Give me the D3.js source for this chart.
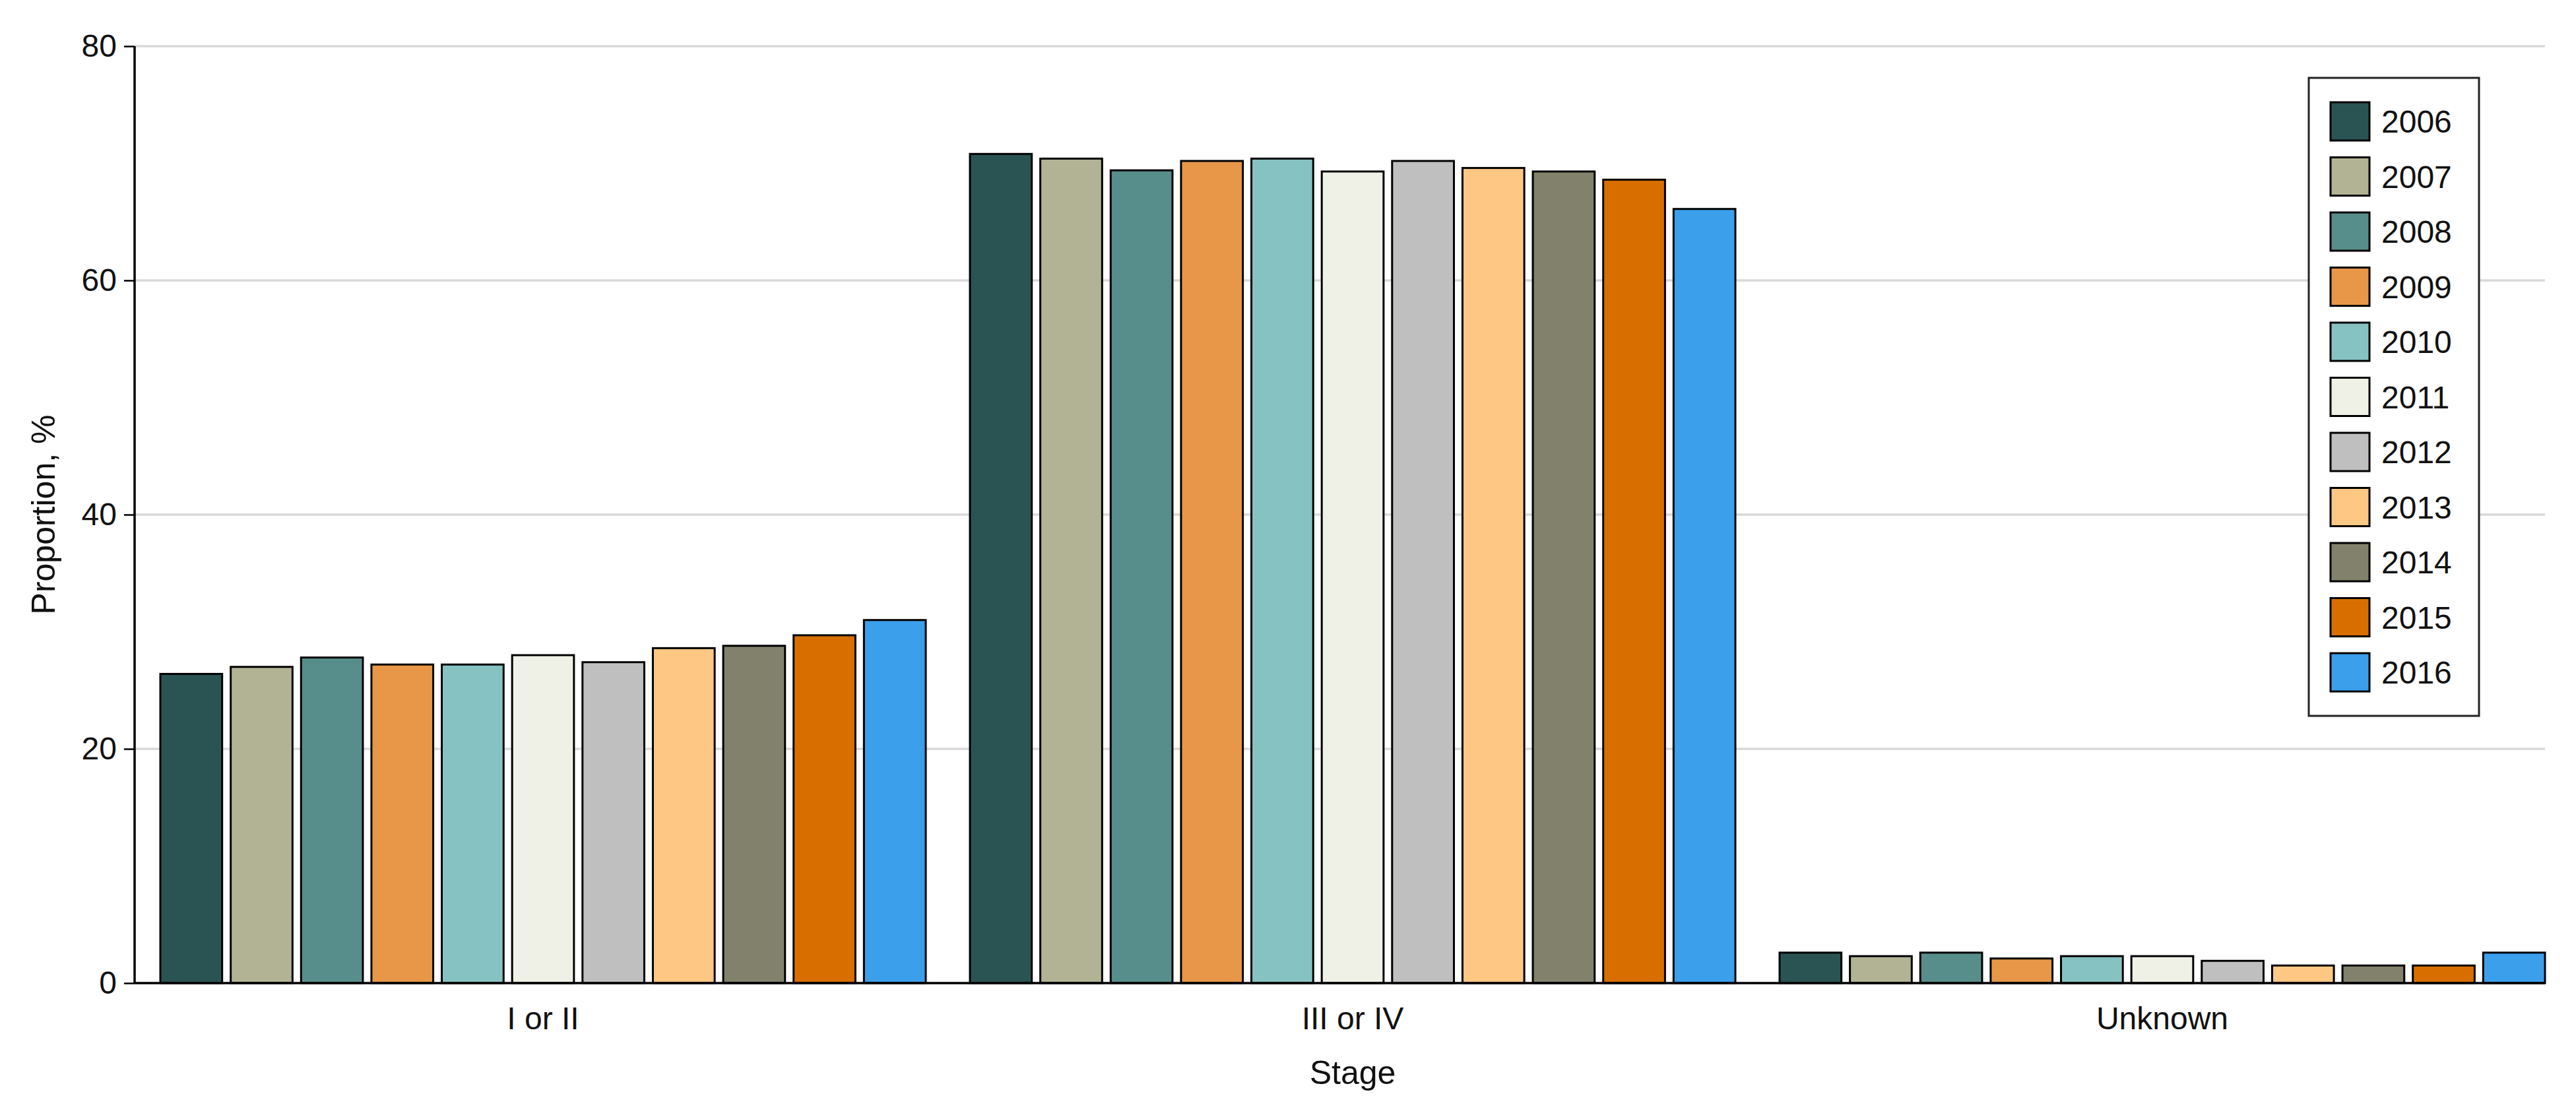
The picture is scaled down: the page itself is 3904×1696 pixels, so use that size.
<!DOCTYPE html>
<html>
<head>
<meta charset="utf-8">
<script src="https://cdn.jsdelivr.net/npm/d3@7"></script>
<style>
  html, body { margin: 0; padding: 0; background: #fff; }
  svg text { font-family: "Liberation Sans", Arial, sans-serif; fill: #111; }
</style>
</head>
<body>
<svg id="chart" width="3904" height="1696"></svg>
<script>
const stages = ["I or II", "III or IV", "Unknown"];
const years = ["2006","2007","2008","2009","2010","2011","2012","2013","2014","2015","2016"];
const colors = ["#2a5454","#b2b394","#578e8b","#e79747","#87c2c2","#f0f1e6","#bfbfbf","#ffc784","#82816b","#d96e00","#3b9feb"];
const valuesIorII   = [26.4, 27.0, 27.8, 27.2, 27.2, 28.0, 27.4, 28.6, 28.8, 29.7, 31.0];
const valuesIIIorIV = [70.8, 70.4, 69.4, 70.2, 70.4, 69.3, 70.2, 69.6, 69.3, 68.6, 66.1];
const valuesUnknown = [2.6, 2.3, 2.6, 2.1, 2.3, 2.3, 1.9, 1.5, 1.5, 1.5, 2.6];
const yTicks = [0, 20, 40, 60, 80];

const seriesByStage = [valuesIorII, valuesIIIorIV, valuesUnknown];
const data = stages.map((s, i) => ({ stage: s, values: years.map((y, j) => ({ year: y, value: seriesByStage[i][j] })) }));

const svg = d3.select("#chart");
const axisX0 = 204, plotRight = 3857, yTop = 70, yBottom = 1490;

const y = d3.scaleLinear().domain([0, 80]).range([yBottom, yTop]);
const x0 = d3.scaleBand().domain(stages).range([243, plotRight]).paddingInner(0.0546).paddingOuter(0);
const x1 = d3.scaleBand().domain(years).range([0, x0.bandwidth()]).paddingInner(0.1215).paddingOuter(0);
const color = d3.scaleOrdinal().domain(years).range(colors);

// gridlines
svg.append("g").selectAll("line").data(yTicks.filter(t => t > 0)).join("line")
  .attr("x1", axisX0).attr("x2", plotRight)
  .attr("y1", d => y(d)).attr("y2", d => y(d))
  .attr("stroke", "#d9d9d9").attr("stroke-width", 3.5);

// bars
const groups = svg.append("g").selectAll("g").data(data).join("g")
  .attr("transform", d => `translate(${x0(d.stage)},0)`);
groups.selectAll("rect").data(d => d.values).join("rect")
  .attr("x", d => x1(d.year))
  .attr("width", x1.bandwidth())
  .attr("y", d => y(d.value))
  .attr("height", d => y(0) - y(d.value))
  .attr("fill", d => color(d.year))
  .attr("stroke", "#000").attr("stroke-width", 3);

// y axis
const yAxis = d3.axisLeft(y).tickValues(yTicks).tickSize(16).tickPadding(11);
const gy = svg.append("g").attr("transform", `translate(${axisX0},0)`).call(yAxis);
gy.select(".domain").attr("stroke", "#000").attr("stroke-width", 3.5).attr("d", `M0,${yTop}V${yBottom}`);
gy.selectAll(".tick line").attr("stroke", "#000").attr("stroke-width", 2.5);
gy.selectAll(".tick text").attr("font-size", 48).attr("font-family", "Liberation Sans, Arial, sans-serif").attr("fill", "#111");

// x axis
const xAxis = d3.axisBottom(x0).tickSize(0).tickPadding(36);
const gx = svg.append("g").attr("transform", `translate(0,${yBottom})`).call(xAxis);
gx.select(".domain").attr("stroke", "#000").attr("stroke-width", 3.5).attr("d", `M${axisX0},0H${plotRight}`);
gx.selectAll(".tick text").attr("font-size", 48).attr("font-family", "Liberation Sans, Arial, sans-serif").attr("fill", "#111");

// axis titles
svg.append("text").attr("x", x0("III or IV") + x0.bandwidth() / 2).attr("y", 1643)
  .attr("text-anchor", "middle").attr("font-size", 50).text("Stage");
svg.append("text").attr("transform", `translate(83,${(yTop + yBottom) / 2}) rotate(-90)`)
  .attr("text-anchor", "middle").attr("font-size", 50).text("Proportion, %");

// legend
const lg = svg.append("g");
lg.append("rect").attr("x", 3499).attr("y", 118).attr("width", 258).attr("height", 967)
  .attr("fill", "#fff").attr("stroke", "#222").attr("stroke-width", 3);
const items = lg.selectAll("g.item").data(years).join("g").attr("class", "item")
  .attr("transform", (d, i) => `translate(3532,${155 + i * 83.5})`);
items.append("rect").attr("width", 59).attr("height", 58)
  .attr("fill", d => color(d)).attr("stroke", "#000").attr("stroke-width", 3);
items.append("text").attr("x", 77).attr("y", 29).attr("dy", "0.36em")
  .attr("font-size", 48).text(d => d);
</script>
</body>
</html>
